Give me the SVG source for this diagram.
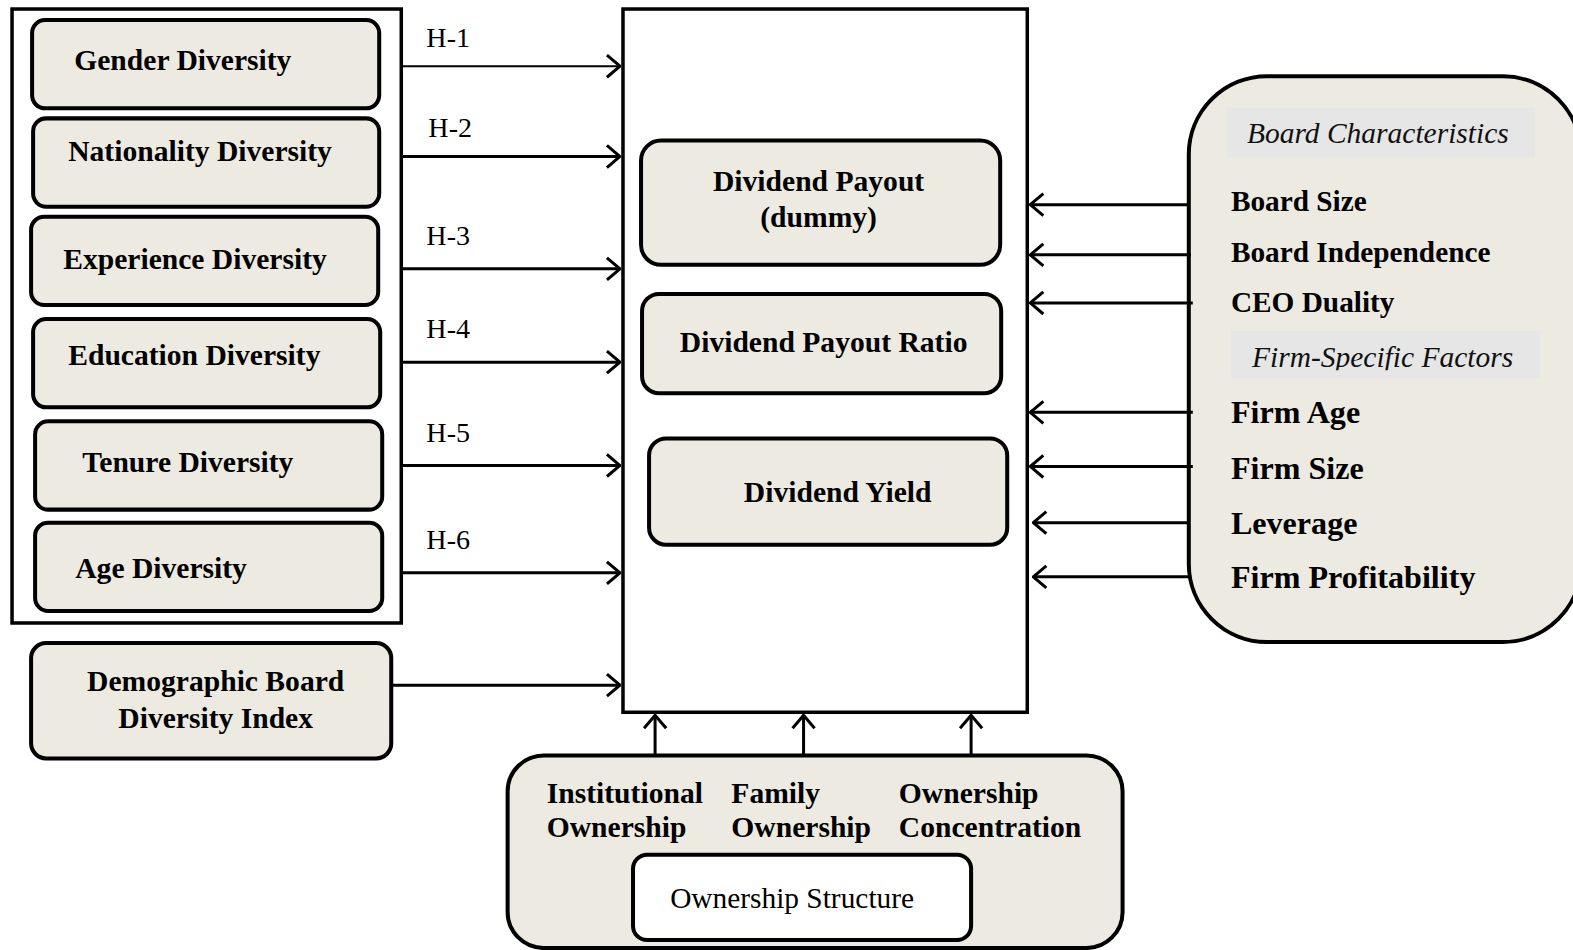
<svg xmlns="http://www.w3.org/2000/svg" width="1573" height="950" viewBox="0 0 1573 950">
<style>
.box{fill:#edebe1;stroke:#000;stroke-width:4}
.frame{fill:#fff;stroke:#000;stroke-width:3.5}
.b{font-family:"Liberation Serif","Times New Roman",serif;font-weight:bold;fill:#000;font-size:29.5px}
.r{font-family:"Liberation Serif","Times New Roman",serif;fill:#000}
.i{font-family:"Liberation Serif","Times New Roman",serif;font-style:italic;fill:#111;font-size:29.4px}
.rb{font-size:29.2px}
.fb{font-size:32px}
.c line{stroke:#000;stroke-width:3}
</style>
<defs>
<marker id="ah" viewBox="0 0 16 26" refX="15" refY="13" markerWidth="16" markerHeight="26" markerUnits="userSpaceOnUse" orient="auto">
<path d="M2,2 L15,13 L2,24" fill="none" stroke="#000" stroke-width="3"/>
</marker>
<clipPath id="fsclip"><rect x="1227" y="330" width="308" height="39"/></clipPath>
</defs>
<g transform="scale(1.0032)">
<g id="diversity-group">
<rect x="12" y="9" width="388" height="612" fill="#fff" stroke="#000" stroke-width="3.5"/>
</g>
<g id="gender"><rect class="box" x="32" y="20" width="346" height="88" rx="13"/><text class="b" x="74" y="70">Gender Diversity</text></g>
<g id="nationality"><rect class="box" x="33" y="118" width="345" height="88" rx="13"/><text class="b" x="68" y="160">Nationality Diversity</text></g>
<g id="experience"><rect class="box" x="31" y="216" width="346" height="88" rx="13"/><text class="b" x="63" y="268">Experience Diversity</text></g>
<g id="education"><rect class="box" x="33" y="318" width="346" height="88" rx="13"/><text class="b" x="68" y="364">Education Diversity</text></g>
<g id="tenure"><rect class="box" x="35" y="420" width="346" height="88" rx="13"/><text class="b" x="82" y="470">Tenure Diversity</text></g>
<g id="age"><rect class="box" x="35" y="521" width="346" height="88" rx="13"/><text class="b" x="75" y="576">Age Diversity</text></g>
<g id="dbdi"><rect class="box" x="31" y="641" width="359" height="115" rx="15"/><text class="b" x="215" y="689" text-anchor="middle">Demographic Board</text><text class="b" x="215" y="726" text-anchor="middle">Diversity Index</text></g>

<g id="dividend-policy">
<rect class="frame" x="621" y="9" width="403" height="701"/>
</g>
<g id="dp-dummy"><rect class="box" x="639" y="140" width="358" height="124" rx="20"/><text class="b" x="816" y="190" text-anchor="middle">Dividend Payout</text><text class="b" x="816" y="226" text-anchor="middle">(dummy)</text></g>
<g id="dp-ratio"><rect class="box" x="640" y="293" width="358" height="99" rx="17"/><text class="b" x="821" y="351" text-anchor="middle">Dividend Payout Ratio</text></g>
<g id="dy"><rect class="box" x="647" y="437" width="357" height="106" rx="17"/><text class="b" x="835" y="500" text-anchor="middle">Dividend Yield</text></g>

<g id="controls">
<rect class="box" x="1185" y="76" width="391" height="564" rx="78"/>
<rect x="1223" y="107" width="307" height="50" fill="#e6e6e6"/>
<text class="i" x="1243" y="143">Board Characteristics</text>
<text class="b rb" x="1227" y="210">Board Size</text>
<text class="b rb" x="1227" y="261">Board Independence</text>
<text class="b rb" x="1227" y="311">CEO Duality</text>
<rect x="1227" y="330" width="308" height="47" fill="#e6e6e6"/>
<text class="i" x="1248" y="366" clip-path="url(#fsclip)">Firm-Specific Factors</text>
<text class="b fb" x="1227" y="422">Firm Age</text>
<text class="b fb" x="1227" y="477">Firm Size</text>
<text class="b fb" x="1227" y="532">Leverage</text>
<text class="b fb" x="1227" y="586">Firm Profitability</text>
</g>

<g id="ownership">
<rect class="box" x="506" y="753" width="613" height="192" rx="36"/>
<text class="b" x="545" y="800">Institutional</text>
<text class="b" x="545" y="834">Ownership</text>
<text class="b" x="729" y="800">Family</text>
<text class="b" x="729" y="834">Ownership</text>
<text class="b" x="896" y="800">Ownership</text>
<text class="b" x="896" y="834">Concentration</text>
</g>
<g id="ownership-structure"><rect x="631" y="852" width="337" height="85" rx="14" fill="#fff" stroke="#000" stroke-width="4"/><text class="r" x="668" y="905" font-size="29.3">Ownership Structure</text></g>

<g id="connectors" class="c">
<line x1="401" y1="66" x2="618" y2="66" marker-end="url(#ah)" style="stroke-width:2"/>
<line x1="401" y1="156" x2="618" y2="156" marker-end="url(#ah)"/>
<line x1="401" y1="268" x2="618" y2="268" marker-end="url(#ah)"/>
<line x1="401" y1="361" x2="618" y2="361" marker-end="url(#ah)"/>
<line x1="401" y1="464" x2="618" y2="464" marker-end="url(#ah)"/>
<line x1="401" y1="571" x2="618" y2="571" marker-end="url(#ah)"/>
<line x1="391" y1="683" x2="618" y2="683" marker-end="url(#ah)"/>
<line x1="1185" y1="204" x2="1027" y2="204" marker-end="url(#ah)"/>
<line x1="1187" y1="254" x2="1027" y2="254" marker-end="url(#ah)"/>
<line x1="1189" y1="302" x2="1027" y2="302" marker-end="url(#ah)"/>
<line x1="1189" y1="411" x2="1027" y2="411" marker-end="url(#ah)"/>
<line x1="1189" y1="465" x2="1027" y2="465" marker-end="url(#ah)"/>
<line x1="1185" y1="521" x2="1030" y2="521" marker-end="url(#ah)"/>
<line x1="1185" y1="575" x2="1030" y2="575" marker-end="url(#ah)"/>
<line x1="653" y1="753" x2="653" y2="713" marker-end="url(#ah)"/>
<line x1="801" y1="753" x2="801" y2="713" marker-end="url(#ah)"/>
<line x1="968" y1="753" x2="968" y2="713" marker-end="url(#ah)"/>
</g>
<g id="labels">
<text class="r" x="425" y="47" font-size="28">H-1</text>
<text class="r" x="427" y="137" font-size="28">H-2</text>
<text class="r" x="425" y="244" font-size="28">H-3</text>
<text class="r" x="425" y="337" font-size="28">H-4</text>
<text class="r" x="425" y="441" font-size="28">H-5</text>
<text class="r" x="425" y="547" font-size="28">H-6</text>
</g>
</g>
</svg>
